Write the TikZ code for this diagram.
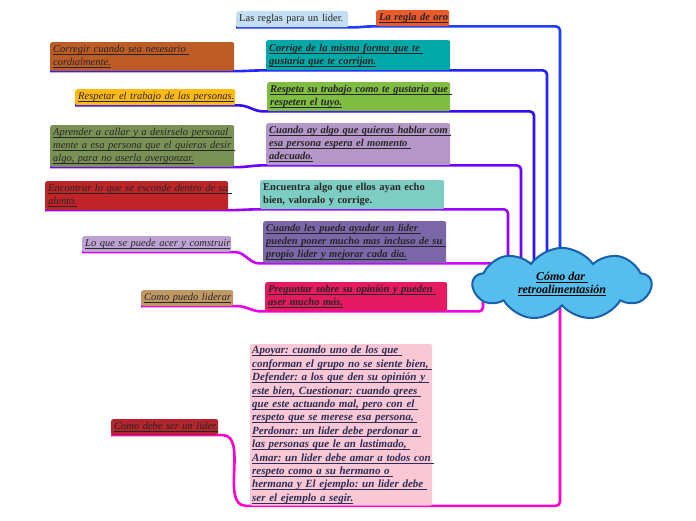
\documentclass[tikz,border=0pt]{standalone}
\usepackage{fontspec}
\setmainfont{Liberation Serif}
\usetikzlibrary{shapes.symbols, backgrounds, calc}
\frenchspacing
\newsavebox{\ulbox}
\newcommand{\uln}[1]{\leavevmode\sbox{\ulbox}{#1}\rlap{\usebox{\ulbox}}\rule[-2.4pt]{\wd\ulbox}{0.8pt}}
\definecolor{skyblue}{RGB}{196,222,243}
\definecolor{orangered}{RGB}{234,90,42}
\definecolor{rust}{RGB}{190,92,38}
\definecolor{tealdark}{RGB}{0,168,168}
\definecolor{amber}{RGB}{255,186,22}
\definecolor{leafgreen}{RGB}{128,190,66}
\definecolor{olive}{RGB}{122,145,86}
\definecolor{lilac}{RGB}{180,150,200}
\definecolor{brickred}{RGB}{190,36,40}
\definecolor{mint}{RGB}{125,205,195}
\definecolor{lavender}{RGB}{190,162,212}
\definecolor{violet}{RGB}{124,102,170}
\definecolor{tan}{RGB}{192,152,102}
\definecolor{rosered}{RGB}{230,26,96}
\definecolor{darkred}{RGB}{180,36,44}
\definecolor{palepink}{RGB}{250,200,212}
\definecolor{cloudfill}{RGB}{86,190,236}
\definecolor{cloudedge}{RGB}{22,96,172}
\definecolor{navytext}{RGB}{44,44,86}
\definecolor{lineA}{RGB}{30,60,255}
\definecolor{lineB}{RGB}{36,36,255}
\definecolor{lineC}{RGB}{52,16,240}
\definecolor{lineD}{RGB}{112,0,255}
\definecolor{lineE}{RGB}{152,0,255}
\definecolor{lineF}{RGB}{205,0,250}
\definecolor{lineG}{RGB}{236,0,230}
\definecolor{lineH}{RGB}{255,0,200}

\begin{document}
\begin{tikzpicture}[
  x=1pt, y=-1pt,
  every node/.style={font=\fontsize{10.5}{13}\selectfont},
  card/.style={anchor=north west, rounded corners=2pt, inner sep=3pt,
               align=left, text=black!85},
  topic/.style={card, font=\fontsize{10.5}{13}\selectfont\itshape},
  idea/.style={card, font=\fontsize{10.5}{13}\selectfont\bfseries\itshape},
  link/.style={line width=2.6pt, rounded corners=4pt, line join=round}
]
\useasboundingbox (0,0) rectangle (696,520);

% Centro
\node[cloud, cloud puffs=9, cloud puff arc=110, aspect=2.6,
      fill=cloudfill, draw=cloudedge, line width=2pt,
      minimum width=178pt, minimum height=68pt, align=center,
      font=\fontsize{12}{13.5}\selectfont\bfseries\itshape]
  (C) at (562,284) {\uln{Cómo dar }\\\uln{retroalimentasión}};

% Rama 1
\node[card, fill=skyblue, text width=106pt, minimum height=16pt] (T1) at (236,11)
  {Las reglas para un lider.};
\node[idea, fill=orangered, text width=67pt, minimum height=16pt] (S1) at (376,10)
  {\uln{La regla de oro}};

% Rama 2
\node[topic, fill=rust, text width=178pt, minimum height=28pt] (T2) at (50,42)
  {\uln{Corregir cuando sea nesesario }\\\uln{cordialmente.}};
\node[idea, fill=tealdark, text width=178pt, minimum height=30pt] (S2) at (266,40)
  {\uln{Corrige de la misma forma que te }\\\uln{gustaria que te corrijan.}};

% Rama 3
\node[topic, fill=amber, text width=154pt, minimum height=16pt] (T3) at (75,89)
  {\uln{Respetar el trabajo de las personas.}};
\node[idea, fill=leafgreen, text width=177pt, minimum height=29pt] (S3) at (267,82)
  {\uln{Respeta su trabajo como te gustaria que }\\\uln{respeten el tuyo.}};

% Rama 4
\node[topic, fill=olive, text width=178pt, minimum height=40pt] (T4) at (50,125)
  {\uln{Aprender a callar y a desirselo personal }\\\uln{mente a esa persona que el quieras desir }\\\uln{algo, para no aserla avergonzar.}};
\node[idea, fill=lilac, text width=178pt, minimum height=42pt] (S4) at (266,123)
  {\uln{Cuando ay algo que quieras hablar com }\\\uln{esa persona espera el momento }\\\uln{adecuado.}};

% Rama 5
\node[topic, fill=brickred, text width=177pt, minimum height=27pt] (T5) at (45,181)
  {\uln{Encontrar lo que se esconde dentro de su }\\\uln{alento.}};
\node[card, fill=mint, text width=178pt, minimum height=29pt,
      font=\fontsize{10.5}{13}\selectfont\bfseries] (S5) at (260,180)
  {Encuentra algo que ellos ayan echo\\bien, valoralo y corrige.};

% Rama 6
\node[topic, fill=lavender, text width=143pt, minimum height=15pt] (T6) at (82,236)
  {\uln{Lo que se puede acer y comstruir}};
\node[idea, fill=violet, text width=177pt, minimum height=42pt] (S6) at (263,221)
  {\uln{Cuando les pueda ayudar un lider }\\\uln{pueden poner mucho mas incluso de su }\\\uln{propio lider y mejorar cada dia.}};

% Rama 7
\node[topic, fill=tan, text width=86pt, minimum height=15pt] (T7) at (141,290)
  {\uln{Como puedo liderar}};
\node[idea, fill=rosered, text width=176pt, minimum height=29pt] (S7) at (265,282)
  {\uln{Preguntar sobre su opinión y pueden }\\\uln{aser mucho más.}};

% Rama 8
\node[idea, fill=palepink, text=navytext, text width=178pt, minimum height=161pt,
      inner sep=2pt, font=\fontsize{11}{13.4}\selectfont\bfseries\itshape] (S8) at (250,344)
  {\uln{Apoyar: cuando uno de los que }\\
   \uln{conforman el grupo no se siente bien, }\\
   \uln{Defender: a los que den su opinión y }\\
   \uln{este bien, Cuestionar: cuando qrees }\\
   \uln{que este  actuando mal, pero con el }\\
   \uln{respeto que se merese esa persona, }\\
   \uln{Perdonar: un lider debe perdonar a }\\
   \uln{las personas que le an lastimado, }\\
   \uln{Amar: un lider debe amar a todos con }\\
   \uln{respeto como a su hermano o }\\
   \uln{hermana  y El ejemplo: un lider debe }\\
   \uln{ser el ejemplo a segir.}};
\node[topic, fill=darkred, text width=101pt, minimum height=15pt] (T8) at (111,419)
  {\uln{Como debe ser un lider.}};

% Conectores
\begin{scope}[on background layer]
  \draw[link, lineA] (T1.south west) -- (T1.south east) to[out=0,in=180] (S1.south west)
    -- (560,0 |- S1.south) -- (560,0 |- C.center);
  \draw[link, lineB] (T2.south west) -- (T2.south east) to[out=0,in=180] (S2.south west)
    -- (547,0 |- S2.south) -- (547,0 |- C.center);
  \draw[link, lineC] (T3.south west) -- (T3.south east) to[out=0,in=180] (S3.south west)
    -- (534,0 |- S3.south) -- (534,0 |- C.center);
  \draw[link, lineD] (T4.south west) -- (T4.south east) to[out=0,in=180] (S4.south west)
    -- (521,0 |- S4.south) -- (521,0 |- C.center);
  \draw[link, lineE] (T5.south west) -- (T5.south east) to[out=0,in=180] (S5.south west)
    -- (508,0 |- S5.south) -- (508,0 |- C.center);
  \draw[link, lineF] (T6.south west) -- (T6.south east) to[out=0,in=180] (S6.south west)
    -- (C.center |- S6.south);
  \draw[link, lineG] (T7.south west) -- (T7.south east) to[out=0,in=180] (S7.south west)
    -- (483,0 |- S7.south) -- (483,0 |- C.center);
  \draw[link, lineH] (T8.south west) -- (T8.south east) to[out=0,in=180] (S8.south west)
    -- (560,0 |- S8.south) -- (560,0 |- C.center);
\end{scope}
\end{tikzpicture}
\end{document}
